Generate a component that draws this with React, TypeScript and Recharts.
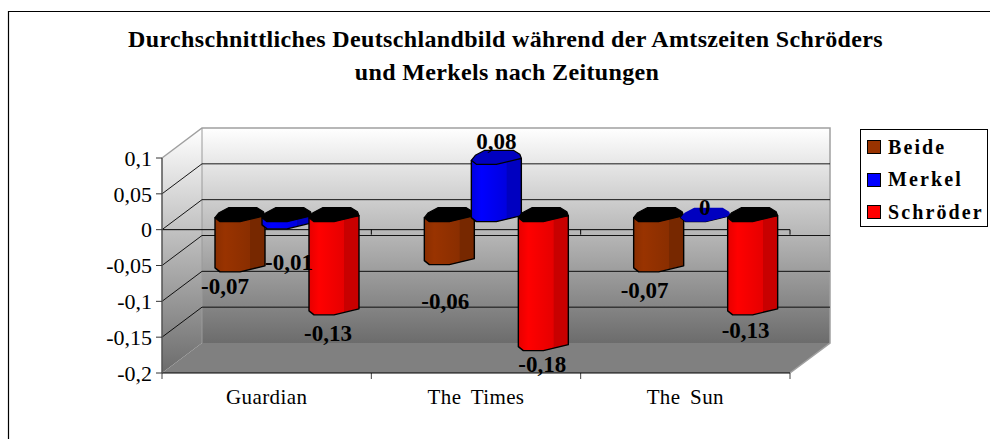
import { Bar, BarChart, LabelList, Legend, XAxis, YAxis } from 'recharts';

const categories = ['Guardian', 'The Times', 'The Sun'];
const beide = [-0.07, -0.06, -0.07];
const merkel = [-0.01, 0.08, 0];
const schroeder = [-0.13, -0.18, -0.13];
const yTicks = [0.1, 0.05, 0, -0.05, -0.1, -0.15, -0.2];

const data = categories.map((name, i) => ({
  name,
  Beide: beide[i],
  Merkel: merkel[i],
  Schröder: schroeder[i],
}));

const colors = {
  Beide: { face: '#993300', dark: '#772800', mid: '#8a2e00', cap: '#0000c0' },
  Merkel: { face: '#0000ff', dark: '#0000c0', mid: '#0000e0', cap: '#0000c0' },
  Schröder: { face: '#ff0000', dark: '#c80000', mid: '#e60000', cap: '#c80000' },
};

// front plane of the fake 3d box, the back wall sits at +depth
const plot = { left: 162, top: 158, width: 628, height: 215 };
const depth = { x: 40, y: -30 };
const legendWidth = 128;
const serif = '"Liberation Serif", serif';

const yPx = (v: number) => plot.top + ((0.1 - v) / 0.3) * plot.height;
const right = plot.left + plot.width;
const bottom = plot.top + plot.height;
const comma = (v: number) => String(v).replace('.', ',');

// hand moved labels in the original, [dx, dy] from the bar end
const labelNudge: Record<string, number[][]> = {
  Beide: [[-15, 22], [-4, 44], [-14, 26]],
  Merkel: [[2, 41], [0, -16], [-1, -7]],
  Schröder: [[-6, 26], [-1, 21], [-7, 23]],
};

function Backdrop() {
  const bx = plot.left + depth.x;
  const by = plot.top + depth.y;
  const boundaries = [1, 2, 3].map((i) => plot.left + (i * plot.width) / categories.length);
  const titleStyle = { letterSpacing: 0.35 };
  return (
    <svg width={990} height={439} style={{ position: 'absolute', left: 0, top: 0 }}>
      <defs>
        <linearGradient id="wall" x1="0" y1="0" x2="0" y2="1">
          <stop offset="0%" stopColor="#ffffff" />
          <stop offset="100%" stopColor="#6c6c6c" />
        </linearGradient>
      </defs>
      <path d="M8.5 439V11.5H990" fill="none" stroke="#000" strokeWidth={1.2} />
      <polygon
        points={`${plot.left},${plot.top} ${bx},${by} ${bx},${by + plot.height} ${plot.left},${bottom}`}
        fill="url(#wall)"
      />
      <rect x={bx} y={by} width={plot.width} height={plot.height} fill="url(#wall)" />
      <polygon
        points={`${plot.left},${bottom} ${bx},${by + plot.height} ${right + depth.x},${by + plot.height} ${right},${bottom}`}
        fill="#808080"
      />
      <polyline
        points={`${plot.left},${plot.top} ${bx},${by} ${right + depth.x},${by} ${right + depth.x},${by + plot.height} ${right},${bottom}`}
        fill="none"
        stroke="#a0a0a0"
        strokeWidth={1.5}
      />
      <line x1={bx} y1={by} x2={bx} y2={by + plot.height} stroke="#9a9a9a" />
      {yTicks.slice(1, -1).map((t) => (
        <polyline
          key={t}
          points={`${plot.left},${yPx(t)} ${bx},${yPx(t) + depth.y} ${right + depth.x},${yPx(t) + depth.y}`}
          fill="none"
          stroke="#000"
          strokeWidth={0.9}
        />
      ))}
      <line x1={plot.left} y1={yPx(0)} x2={right} y2={yPx(0)} stroke="#000" strokeWidth={1} />
      {boundaries.map((x) => (
        <g key={x}>
          <line x1={x} y1={yPx(0)} x2={x} y2={yPx(0) + 5} stroke="#000" />
          <line x1={x} y1={bottom} x2={x} y2={bottom + 6} stroke="#444" />
        </g>
      ))}
      <line x1={plot.left} y1={bottom} x2={plot.left} y2={bottom + 6} stroke="#444" />
      <text x={505.5} y={47} textAnchor="middle" fontFamily={serif} fontWeight={700} fontSize={24} style={titleStyle}>
        Durchschnittliches Deutschlandbild während der Amtszeiten Schröders
      </text>
      <text x={507} y={80} textAnchor="middle" fontFamily={serif} fontWeight={700} fontSize={24} style={titleStyle}>
        und Merkels nach Zeitungen
      </text>
    </svg>
  );
}

function Cylinder(props: any) {
  const { x, y, width, height, dataKey, value } = props;
  const c = colors[dataKey as keyof typeof colors];
  const left = x + depth.x / 2;
  const a = Math.min(y, y + height) + depth.y / 2;
  const b = Math.max(y, y + height) + depth.y / 2;
  const px = (f: number) => left + f * width;
  const capTop = (cy: number) =>
    `${px(0)},${cy + 3} ${px(0.08)},${cy - 2} ${px(0.27)},${cy - 7} ${px(0.84)},${cy - 7} ${px(0.97)},${cy - 3} ${px(1)},${cy + 1}`;
  const lower = (cy: number) => `${px(1)},${cy + 1} ${px(0.5)},${cy + 7} ${px(0.1)},${cy + 7} ${px(0)},${cy + 3}`;
  const gid = `cyl-${dataKey}`;
  // seen from above a hanging bar shows a black hollow top
  const capFill = value < 0 ? '#000000' : c.cap;
  return (
    <g>
      <defs>
        <linearGradient id={gid} x1="0" y1="0" x2="1" y2="0">
          <stop offset="0%" stopColor={c.mid} />
          <stop offset="20%" stopColor={c.face} />
          <stop offset="70%" stopColor={c.mid} />
          <stop offset="71%" stopColor={c.dark} />
          <stop offset="100%" stopColor={c.dark} />
        </linearGradient>
      </defs>
      <polygon
        points={`${lower(b)} ${px(0)},${a + 3} ${px(1)},${a + 1}`}
        fill={`url(#${gid})`}
        stroke="#000"
        strokeWidth={1.4}
        strokeLinejoin="round"
      />
      <polygon
        points={`${capTop(a)} ${lower(a)}`}
        fill={capFill}
        stroke="#000"
        strokeWidth={value === 0 ? 0 : 1.2}
        strokeLinejoin="round"
      />
    </g>
  );
}

function barLabel(series: string) {
  return (props: any) => {
    const { x, y, width, height, value, index } = props;
    const [nx, ny] = labelNudge[series][index];
    const end = value > 0 ? Math.min(y, y + height) : Math.max(y, y + height);
    return (
      <text
        x={x + depth.x / 2 + width / 2 + nx}
        y={end + depth.y / 2 + ny}
        textAnchor="middle"
        dominantBaseline="central"
        fontFamily={serif}
        fontWeight={700}
        fontSize={23}
        fill="#000"
      >
        {comma(value)}
      </text>
    );
  };
}

function LegendBox({ payload }: any) {
  return (
    <div
      style={{
        width: legendWidth,
        height: 98,
        border: '1px solid #000',
        background: '#fff',
        boxSizing: 'border-box',
        padding: '1px 0 0 6px',
        fontFamily: serif,
        fontWeight: 700,
        fontSize: 20,
        letterSpacing: 2.1,
        color: '#000',
      }}
    >
      {(payload ?? []).map((p: any) => (
        <div key={p.value} style={{ display: 'flex', alignItems: 'center', height: 32.5 }}>
          <span
            style={{
              width: 12,
              height: 12,
              border: '1.5px solid #000',
              background: colors[p.value as keyof typeof colors].face,
              marginRight: 7,
              boxSizing: 'content-box',
            }}
          />
          {p.value}
        </div>
      ))}
    </div>
  );
}

export default function App() {
  return (
    <div style={{ position: 'absolute', left: 0, top: 0, width: 990, height: 439, overflow: 'hidden' }}>
      <Backdrop />
      <div style={{ position: 'absolute', left: 0, top: 0 }}>
        <BarChart
          width={990}
          height={439}
          data={data}
          margin={{ left: plot.left - 70, top: plot.top, right: 990 - right - legendWidth, bottom: 439 - bottom - 30 }}
          barSize={50}
          barGap={-3}
        >
          <XAxis
            dataKey="name"
            height={30}
            interval={0}
            axisLine={{ stroke: '#000', strokeWidth: 1.2 }}
            tickLine={false}
            tick={{ fill: '#000', fontSize: 21, fontFamily: serif, letterSpacing: 0.4, wordSpacing: 4 }}
            tickMargin={10}
          />
          <YAxis
            width={70}
            domain={[-0.2, 0.1]}
            ticks={yTicks}
            interval={0}
            tickFormatter={comma}
            axisLine={{ stroke: '#555', strokeWidth: 1.5 }}
            tickLine={{ stroke: '#333' }}
            tickSize={6}
            tickMargin={4}
            tick={{ fill: '#000', fontSize: 22, fontFamily: serif }}
          />
          <Legend
            verticalAlign="top"
            align="right"
            layout="vertical"
            content={<LegendBox />}
            wrapperStyle={{ position: 'absolute', left: 860, top: 129, width: legendWidth, height: 98 }}
          />
          <Bar dataKey="Beide" isAnimationActive={false} shape={Cylinder} fill={colors.Beide.face}>
            <LabelList dataKey="Beide" content={barLabel('Beide')} />
          </Bar>
          <Bar dataKey="Merkel" isAnimationActive={false} shape={Cylinder} fill={colors.Merkel.face}>
            <LabelList dataKey="Merkel" content={barLabel('Merkel')} />
          </Bar>
          <Bar dataKey="Schröder" isAnimationActive={false} shape={Cylinder} fill={colors.Schröder.face}>
            <LabelList dataKey="Schröder" content={barLabel('Schröder')} />
          </Bar>
        </BarChart>
      </div>
    </div>
  );
}
